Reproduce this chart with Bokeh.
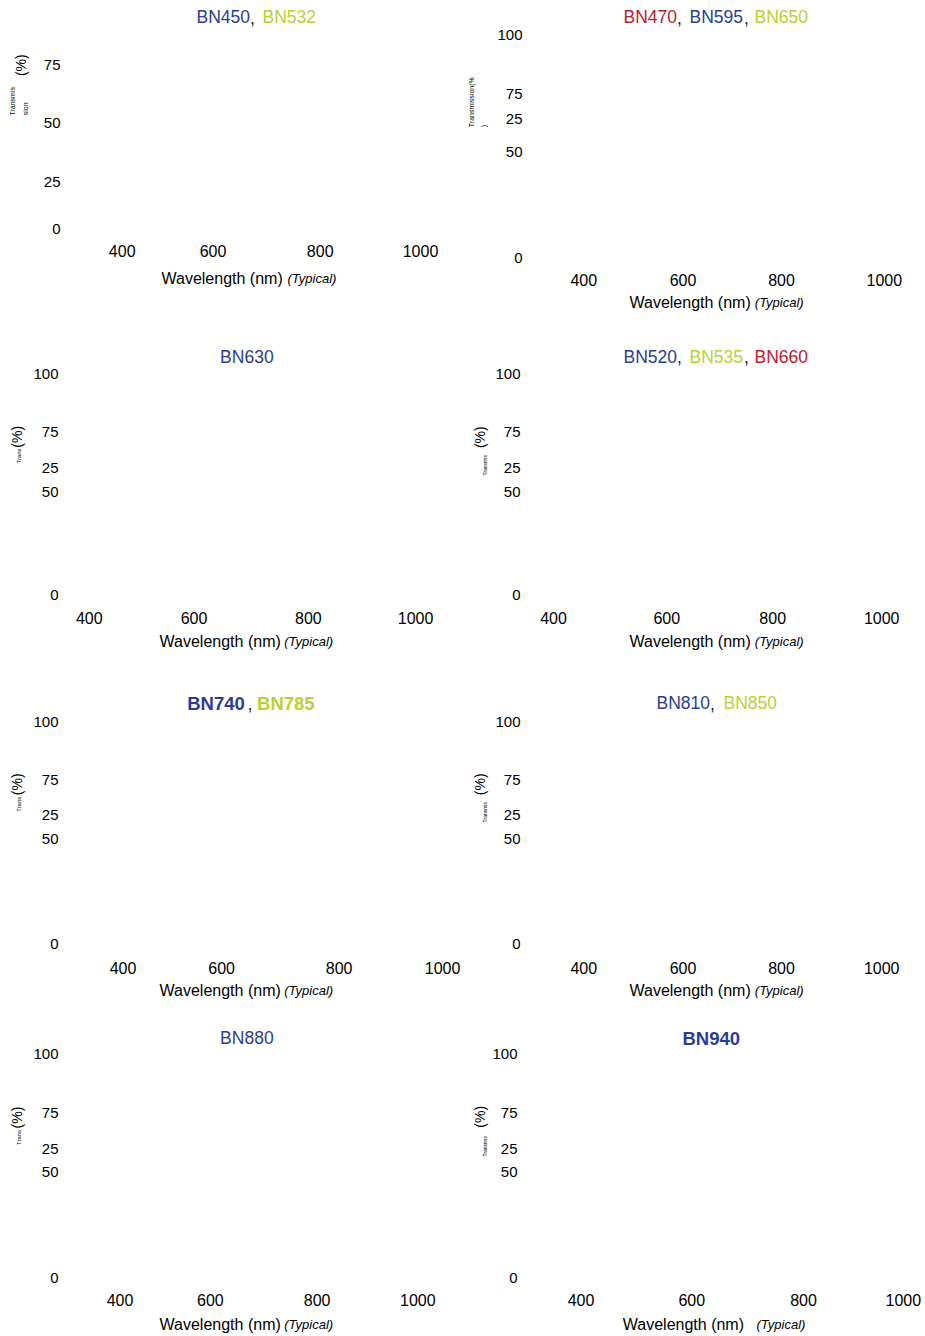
import math
from bokeh.plotting import figure
from bokeh.models import Range1d, FixedTicker, Label
from bokeh.layouts import column, row
from bokeh.core.properties import value
from bokeh.embed import file_html
from bokeh.resources import INLINE

FONT = "Liberation Sans"
BLUE = "#2b3c96"
GREEN = "#b4d334"
RED = "#be1b2e"

# ---------------- data ----------------
panel_titles = [
    [("BN450", BLUE), ("BN532", GREEN)],
    [("BN470", RED), ("BN595", BLUE), ("BN650", GREEN)],
    [("BN630", BLUE)],
    [("BN520", BLUE), ("BN535", GREEN), ("BN660", RED)],
    [("BN740", BLUE), ("BN785", GREEN)],
    [("BN810", BLUE), ("BN850", GREEN)],
    [("BN880", BLUE)],
    [("BN940", BLUE)],
]
x_tick_labels = ["400", "600", "800", "1000"]
y_tick_labels_first = ["75", "50", "25", "0"]
y_tick_labels = ["100", "75", "25", "50", "0"]
x_axis_label = "Wavelength (nm)"
x_axis_note = "(Typical)"

# ---------------- layout (panel pixels, origin top-left of each panel) ----------------
layout = [
    dict(W=463, H=347, Ls=30, bold=False, t_start=[196, 262], t_end=[249], t_base=23.3,
         ry=60, ypix=[65, 123, 182, 229], ylabels=y_tick_labels_first,
         xpix=[121.7, 212.5, 319.7, 420], xc=251.5, xl=161, note=287, xbase=284.3,
         ylab=[("(%)", 20.5, 64.7, 14), ("Transmis", 11.7, 100.8, 7), ("sion", 24.5, 108.3, 7)]),
    dict(W=462, H=347, Ls=26, bold=False, t_start=[160, 226, 291], t_end=[213, 280], t_base=23.3,
         ry=59, ypix=[34.7, 93.2, 118.2, 151.5, 257.5], ylabels=y_tick_labels,
         xpix=[120.3, 219.5, 318, 420.8], xc=279.8, xl=166, note=291.3, xbase=308.3,
         ylab=[("Transmission(%", 7.8, 101.7, 7), (")", 20, 125.5, 7)]),
    dict(W=463, H=346, Ls=30, bold=False, t_start=[219], t_end=[], t_base=15.7,
         ry=57, ypix=[26.7, 84.7, 120.8, 144.5, 248.2], ylabels=y_tick_labels,
         xpix=[87.8, 192.8, 307.5, 415], xc=271.3, xl=158.3, note=283.3, xbase=300.3,
         ylab=[("(%)", 16.3, 89.3, 14), ("Trans", 18, 108.5, 6)]),
    dict(W=462, H=346, Ls=26, bold=False, t_start=[160, 226, 291], t_end=[213, 280], t_base=15.7,
         ry=57, ypix=[26.7, 84.7, 120.8, 144.5, 248.2], ylabels=y_tick_labels,
         xpix=[90, 203.3, 309.2, 418.2], xc=271.3, xl=166, note=291.3, xbase=300.3,
         ylab=[("(%)", 16, 89.7, 14), ("Transmis", 21.7, 117.8, 5)]),
    dict(W=463, H=335, Ls=30, bold=True, t_start=[186, 256], t_end=[246], t_base=16,
         ry=56.7, ypix=[28.7, 86.2, 121.2, 145.2, 250.2], ylabels=y_tick_labels,
         xpix=[121.7, 220.5, 338.3, 442], xc=274.5, xl=158.3, note=283.3, xbase=303,
         ylab=[("(%)", 16.3, 90.8, 14), ("Trans", 18, 110.8, 6)]),
    dict(W=462, H=335, Ls=26, bold=False, t_start=[193, 260], t_end=[246], t_base=16,
         ry=57, ypix=[28.7, 86.2, 121.2, 145.2, 250.2], ylabels=y_tick_labels,
         xpix=[120.3, 219.5, 318, 418.2], xc=274.5, xl=166, note=291.3, xbase=303,
         ylab=[("(%)", 16, 90.8, 14), ("Transmis", 21.7, 118.7, 5)]),
    dict(W=463, H=308, Ls=30, bold=False, t_start=[219], t_end=[], t_base=16,
         ry=56.7, ypix=[25.8, 84.5, 120.2, 143.5, 249.5], ylabels=y_tick_labels,
         xpix=[118.7, 209.2, 316.3, 417.2], xc=271.8, xl=158.3, note=283.3, xbase=302,
         ylab=[("(%)", 16.3, 89, 14), ("Trans", 18, 109, 6)]),
    dict(W=462, H=308, Ls=26, bold=True, t_start=[219], t_end=[], t_base=16,
         ry=53.7, ypix=[25.8, 84.5, 120.2, 143.5, 249.5], ylabels=y_tick_labels,
         xpix=[117.5, 228.3, 340, 439.8], xc=271.8, xl=159.3, note=293, xbase=302,
         ylab=[("(%)", 16, 88.3, 14), ("Transmis", 21.7, 117.8, 5)]),
]

Y_STANDOFF = 8
X_STANDOFF = 4
BASE_SHIFT = 6.5   # renderer places alphabetic baselines lower than measured


def strip(width, height, x0, x1, y_top, y_bottom, **kw):
    s = figure(width=width, height=height, output_backend="svg", toolbar_location=None,
               title=None, x_axis_location=None, y_axis_location=None,
               x_range=Range1d(x0, x1), y_range=Range1d(y_bottom, y_top),
               min_border=0, **kw)
    s.outline_line_color = None
    s.grid.visible = False
    s.background_fill_color = "white"
    s.border_fill_color = "white"
    return s


def make_panel(title_parts, L):
    W, H, Ls = L["W"], L["H"], L["Ls"]
    Wm = W - Ls
    Hm = int(round(L["xc"] + 12))
    fl = int(round(L["ry"] - Ls + Y_STANDOFF))  # frame left, in main-figure pixels
    fb = L["xc"] - 7 - X_STANDOFF               # frame bottom, in panel pixels

    xp = L["xpix"]
    sx = 600.0 / (xp[-1] - xp[0])
    def px2x(px):                              # panel pixel -> wavelength units
        return 400 + (px - xp[0]) * sx

    yp = L["ypix"]
    labs = L["ylabels"]
    p0 = yp[labs.index("0")]
    top_val = max(int(v) for v in labs)
    p_top = yp[labs.index(str(top_val))]
    sy = top_val / (p0 - p_top)
    def py2y(py):                              # panel pixel -> transmission units
        return (p0 - py) * sy

    p = figure(width=Wm, height=Hm, output_backend="svg", toolbar_location=None,
               title=None,
               x_range=Range1d(px2x(Ls + fl), px2x(W)),
               y_range=Range1d(py2y(fb), py2y(0)),
               min_border_left=fl, min_border_right=0,
               min_border_top=0, min_border_bottom=int(round(Hm - fb)))
    p.outline_line_color = None
    p.grid.visible = False
    p.background_fill_color = "white"
    p.border_fill_color = "white"

    xticks = [round(px2x(v), 3) for v in xp]
    p.xaxis.ticker = FixedTicker(ticks=xticks)
    p.xaxis.major_label_overrides = {t: s for t, s in zip(xticks, x_tick_labels)}
    yticks = [round(py2y(v), 3) for v in yp]
    p.yaxis.ticker = FixedTicker(ticks=yticks)
    p.yaxis.major_label_overrides = {t: s for t, s in zip(yticks, labs)}

    for ax in (p.xaxis[0], p.yaxis[0]):
        ax.axis_line_color = None
        ax.major_tick_line_color = None
        ax.minor_tick_line_color = None
        ax.major_tick_out = 0
        ax.major_tick_in = 0
        ax.major_label_text_font = FONT
        ax.major_label_text_color = "black"
        ax.major_label_text_font_style = "normal"
    p.xaxis.major_label_text_font_size = "16px"
    p.xaxis.major_label_standoff = X_STANDOFF
    p.yaxis.major_label_text_font_size = "15px"
    p.yaxis.major_label_standoff = Y_STANDOFF

    # multi-coloured title, inside the frame
    style = "bold" if L["bold"] else "normal"
    tsize = "18.5px" if L["bold"] else "17.5px"
    tb = L["t_base"] - BASE_SHIFT
    for i, (txt, col) in enumerate(title_parts):
        p.add_layout(Label(x=px2x(L["t_start"][i]), y=py2y(tb), text=txt,
                           text_color=col, text_font=FONT, text_font_size=tsize,
                           text_font_style=style, text_align="left",
                           text_baseline="alphabetic"))
    for e in L["t_end"]:
        p.add_layout(Label(x=px2x(e + 0.5), y=py2y(tb), text=",",
                           text_color="#222222", text_font=FONT, text_font_size="17.5px",
                           text_align="left", text_baseline="alphabetic"))

    # left strip: y-axis title fragments
    left = strip(Ls, H, 0, Ls, 0, H)
    for txt, cx, cy, fs in L["ylab"]:
        left.text(x=[cx], y=[cy], text=[txt], angle=math.pi / 2,
                  text_color="black", text_font=value(FONT),
                  text_font_size=value(f"{fs}px"), text_align=value("center"),
                  text_baseline=value("middle"))

    # bottom strip: x-axis title (its frame is aligned with the main frame)
    xb = L["xbase"] - BASE_SHIFT
    bottom = strip(Wm, H - Hm, Ls + fl, W, Hm, H,
                   min_border_left=fl, min_border_right=0)
    bottom.text(x=[L["xl"]], y=[xb], text=[x_axis_label],
                text_color="black", text_font=value(FONT),
                text_font_size=value("16px"), text_align=value("left"),
                text_baseline=value("alphabetic"))
    bottom.text(x=[L["note"]], y=[xb], text=[x_axis_note],
                text_color="black", text_font=value(FONT),
                text_font_size=value("13px"), text_font_style=value("italic"),
                text_align=value("left"), text_baseline=value("alphabetic"))

    return row(left, column(p, bottom))


panels = [make_panel(t, L) for t, L in zip(panel_titles, layout)]
page = column(
    row(panels[0], panels[1]),
    row(panels[2], panels[3]),
    row(panels[4], panels[5]),
    row(panels[6], panels[7]),
)

open("out.html", "w").write(file_html(page, INLINE))
